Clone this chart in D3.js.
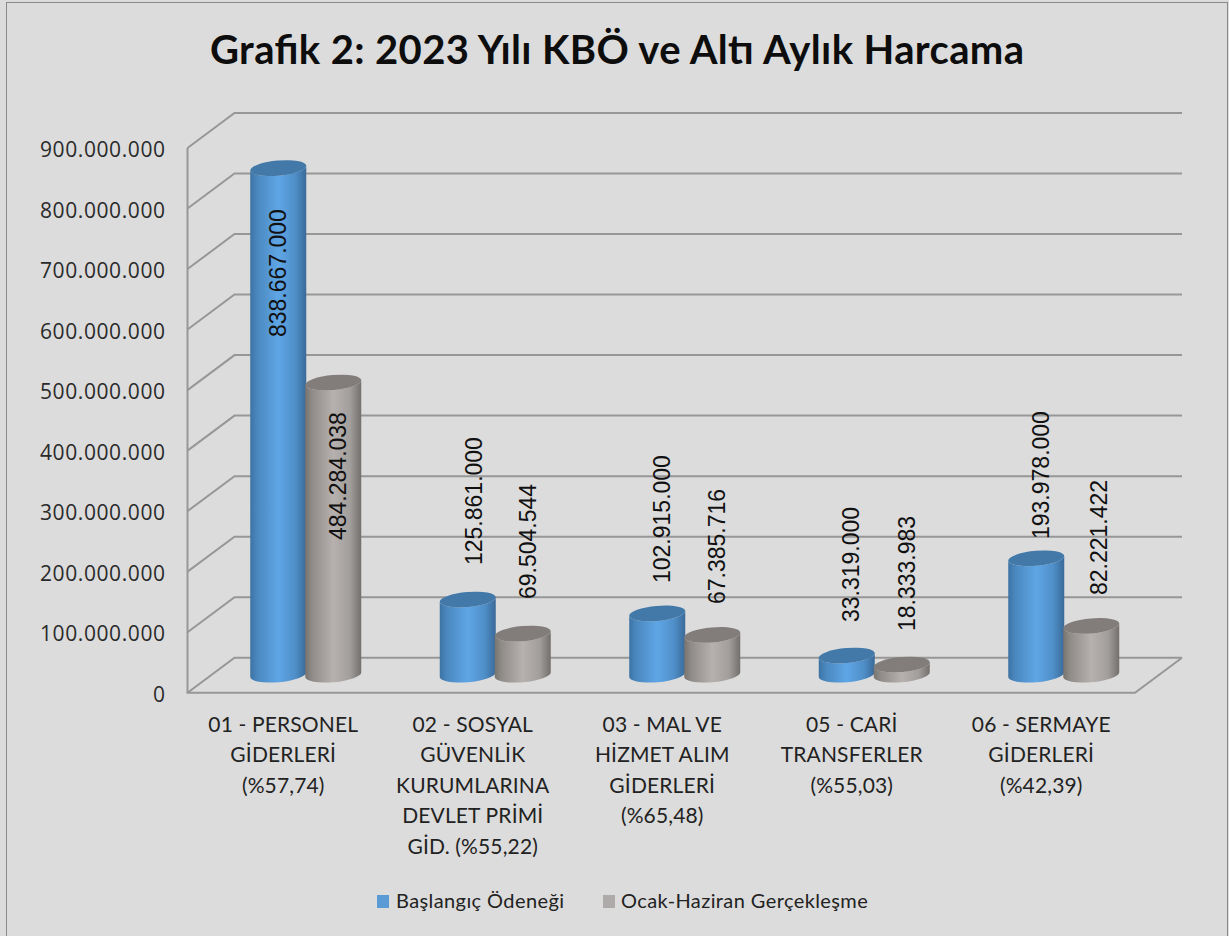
<!DOCTYPE html>
<html><head><meta charset="utf-8">
<script src="https://cdnjs.cloudflare.com/ajax/libs/d3/7.8.5/d3.min.js"></script>
<style>html,body{margin:0;padding:0;background:#dcdcdc}svg{display:block}</style>
</head><body><div id="c"></div>
<script>
const categories=[
 ["01 - PERSONEL","GİDERLERİ","(%57,74)"],
 ["02 - SOSYAL","GÜVENLİK","KURUMLARINA","DEVLET PRİMİ","GİD. (%55,22)"],
 ["03 - MAL VE","HİZMET ALIM","GİDERLERİ","(%65,48)"],
 ["05 - CARİ","TRANSFERLER","(%55,03)"],
 ["06 - SERMAYE","GİDERLERİ","(%42,39)"]];
const budget=[838667000,125861000,102915000,33319000,193978000];
const actual=[484284038,69504544,67385716,18333983,82221422];
const seriesNames=["Başlangıç Ödeneği","Ocak-Haziran Gerçekleşme"];
const yTicks=[0,100000000,200000000,300000000,400000000,500000000,600000000,700000000,800000000,900000000];
const titleText="Grafik 2: 2023 Yılı KBÖ ve Altı Aylık Harcama";

const W=1229,H=936;
const fmt=v=>d3.format(",")(v).replace(/,/g,".");
const svg=d3.select("#c").append("svg").attr("width",W).attr("height",H);
const defs=svg.append("defs");
function grad(id,stops){
  const g=defs.append("linearGradient").attr("id",id).attr("x1",0).attr("x2",1).attr("y1",0).attr("y2",0);
  stops.forEach(s=>g.append("stop").attr("offset",s[0]).attr("stop-color",s[1]));
}
grad("gb",[[0,"#3d73a4"],[.12,"#4a87be"],[.5,"#5fa6e6"],[.8,"#4f8fc9"],[1,"#3a6a98"]]);
grad("gg",[[0,"#77736f"],[.12,"#8f8b88"],[.5,"#b6b1af"],[.8,"#a29e9c"],[1,"#736f6d"]]);
const palette={budget:{fill:"url(#gb)",top:"#4279a9",key:"#5b9bd5"},actual:{fill:"url(#gg)",top:"#827d7b",key:"#aeaaaa"}};

svg.append("rect").attr("x",6.5).attr("y",2.5).attr("width",W-8).attr("height",H+5).attr("fill","#dcdcdc").attr("stroke","#8a8a8a");

const x=d3.scaleBand().domain(d3.range(5)).range([187.5,1135]);
const y=d3.scaleLinear().domain([0,900000000]).range([692.7,148]);
const dx=47,dy=-35;
const wall="#979797";
const g=svg.append("g").attr("fill","none").attr("stroke",wall).attr("stroke-width",2);
yTicks.forEach(t=>{
  g.append("path").attr("d",d3.line()([[x.range()[0],y(t)],[x.range()[0]+dx,y(t)+dy],[x.range()[1]+dx,y(t)+dy]]));
});
g.append("path").attr("d",d3.line()([[x.range()[0],y(900000000)],[x.range()[0],y(0)],[x.range()[1],y(0)],[x.range()[1]+dx,y(0)+dy]]));

const yAxis=svg.append("g").attr("font-family","'Open Sans',sans-serif").attr("font-size",21).attr("fill","#2a2a2a");
yAxis.selectAll("text").data(yTicks).join("text").attr("x",165).attr("y",d=>y(d)+9).attr("text-anchor","end")
  .attr("textLength",d=>d?125:null).text(fmt);

const rx=28,ry=7.5,rot=-5,tilt=2.4,baseY=-18;
function drawBar(cx,v,p,gr){
  const b=y(0)+baseY, t=y(v)+baseY+1;
  const a=`A${rx} ${ry} ${rot}`;
  gr.append("path").attr("fill",p.fill)
    .attr("d",`M${cx-rx} ${t+tilt}L${cx-rx} ${b+tilt}${a} 0 0 ${cx+rx} ${b-tilt}L${cx+rx} ${t-tilt}${a} 0 1 ${cx-rx} ${t+tilt}Z`);
  gr.append("path").attr("fill",p.top)
    .attr("d",`M${cx-rx} ${t+tilt}${a} 0 0 ${cx+rx} ${t-tilt}${a} 0 0 ${cx-rx} ${t+tilt}Z`);
}
const bars=svg.append("g");
categories.forEach((c,i)=>{
  const mid=x(i)+x.bandwidth()/2+23.5;
  drawBar(mid-27.5,budget[i],palette.budget,bars);
  drawBar(mid+27.5,actual[i],palette.actual,bars);
});
const labelPlace={budget:[[337,8],[565,14],[583,13],[622,12],[539,13]],actual:[[540,13],[599,13],[604,13],[631,13],[595,16]]};
const lab=svg.append("g").attr("font-family","'Liberation Sans',Arial,sans-serif").attr("font-size",23).attr("fill","#111");
categories.forEach((c,i)=>{
  const mid=x(i)+x.bandwidth()/2+23.5;
  [[budget,"budget",-27.5],[actual,"actual",27.5]].forEach(([arr,k,o])=>{
    const p=labelPlace[k][i];
    lab.append("text").attr("transform",`translate(${mid+o+p[1]},${p[0]}) rotate(-90)`).text(fmt(arr[i]));
  });
});
const cat=svg.append("g").attr("font-family","Lato,sans-serif").attr("font-size",21).attr("fill","#222").attr("text-anchor","middle");
categories.forEach((c,i)=>{
  c.forEach((l,j)=>cat.append("text").attr("x",x(i)+x.bandwidth()/2+1).attr("y",732+j*30.4).attr("letter-spacing",.15).text(l));
});
svg.append("text").attr("x",617).attr("y",64).attr("text-anchor","middle").attr("font-family","Lato,sans-serif").attr("font-weight",700).attr("font-size",40).attr("textLength",814).attr("fill","#0d0d0d").text(titleText);

const leg=svg.append("g").attr("font-family","Lato,sans-serif").attr("font-size",20).attr("letter-spacing",.4).attr("fill","#222");
[[377,396,palette.budget.key],[603,621,palette.actual.key]].forEach((l,i)=>{
  leg.append("rect").attr("x",l[0]).attr("y",895).attr("width",12).attr("height",13).attr("fill",l[2]);
  leg.append("text").attr("x",l[1]).attr("y",908).text(seriesNames[i]);
});
</script></body></html>
